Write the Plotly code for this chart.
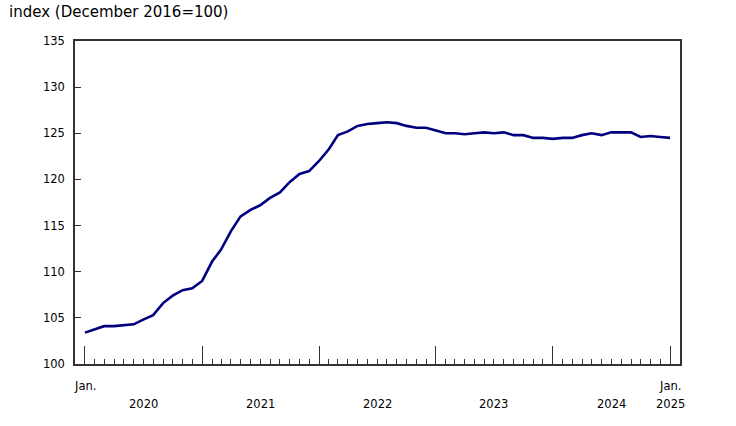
import pandas as pd
import plotly.graph_objs as go

# monthly index values, January 2020 to January 2025
months = pd.date_range("2020-01-01", "2025-01-01", freq="MS")
index_values = [
    103.4, 103.8, 104.1, 104.1, 104.2, 104.3, 104.8, 105.3, 106.6, 107.4, 108.0, 108.2,
    109.0, 111.1, 112.4, 114.4, 116.0, 116.7, 117.2, 118.0, 118.6, 119.7, 120.6, 120.9,
    122.0, 123.3, 124.8, 125.2, 125.8, 126.0, 126.1, 126.2, 126.1, 125.8, 125.6, 125.6,
    125.3, 125.0, 125.0, 124.9, 125.0, 125.1, 125.0, 125.1, 124.8, 124.8, 124.5, 124.5,
    124.4, 124.5, 124.5, 124.8, 125.0, 124.8, 125.1, 125.1, 125.1, 124.6, 124.7, 124.6,
    124.5,
]

year_labels = ["2020", "2021", "2022", "2023", "2024", "2025"]
year_label_pos = ["2020-07-01", "2021-07-01", "2022-07-01", "2023-07-01", "2024-07-01", "2025-01-01"]
jan_ticks = ["2020-01-01", "2021-01-01", "2022-01-01", "2023-01-01", "2024-01-01", "2025-01-01"]
y_ticks = [100, 105, 110, 115, 120, 125, 130, 135]

font = "DejaVu Sans"
axis_col = "#333333"

fig = go.Figure()
fig.add_trace(go.Scatter(
    x=months, y=index_values, mode="lines",
    line=dict(color="#000080", width=2.6),
    hoverinfo="skip",
))

# x labels drawn as annotations (Jan. marks + year names)
annots = []
for lab, pos in zip(year_labels, year_label_pos):
    annots.append(dict(x=pos, y=0, xref="x", yref="paper", text=lab, showarrow=False,
                       yanchor="middle", yshift=-40, font=dict(size=11.5, color="black", family=font)))
for pos in [jan_ticks[0], jan_ticks[-1]]:
    annots.append(dict(x=pos, y=0, xref="x", yref="paper", text="Jan.", showarrow=False,
                       yanchor="middle", yshift=-22, font=dict(size=11.5, color="black", family=font)))
annots.append(dict(x=0, y=1, xref="paper", yref="paper", text="index (December 2016=100)",
                   showarrow=False, xanchor="left", yanchor="middle", xshift=-68, yshift=29,
                   font=dict(size=15, color="black", family=font)))

fig.update_layout(
    width=736, height=426,
    margin=dict(l=75, r=56, t=41, b=62),
    plot_bgcolor="white", paper_bgcolor="white",
    showlegend=False,
    font=dict(family=font, size=11.5, color="black"),
    annotations=annots,
    xaxis=dict(
        type="date",
        range=["2019-12-01", "2025-02-01"],
        tickvals=jan_ticks, ticktext=[""] * len(jan_ticks),
        ticks="inside", ticklen=18, tickwidth=1, tickcolor=axis_col,
        minor=dict(ticks="inside", ticklen=5, tickwidth=1, tickcolor=axis_col,
                   tick0="2020-01-01", dtick="M1"),
        showline=True, linecolor=axis_col, linewidth=1.5, mirror=True,
        showgrid=False, zeroline=False,
    ),
    yaxis=dict(
        range=[100, 135],
        tickvals=y_ticks,
        ticks="inside", ticklen=6, tickwidth=1, tickcolor=axis_col,
        ticklabelstandoff=6,
        showline=True, linecolor=axis_col, linewidth=1.5, mirror=True,
        showgrid=False, zeroline=False,
    ),
)

# drop the default 8px body margin so the figure sits at the window corner
fig.write_html("out.html", config={"displayModeBar": False},
               post_script="document.body.style.margin='0';")
